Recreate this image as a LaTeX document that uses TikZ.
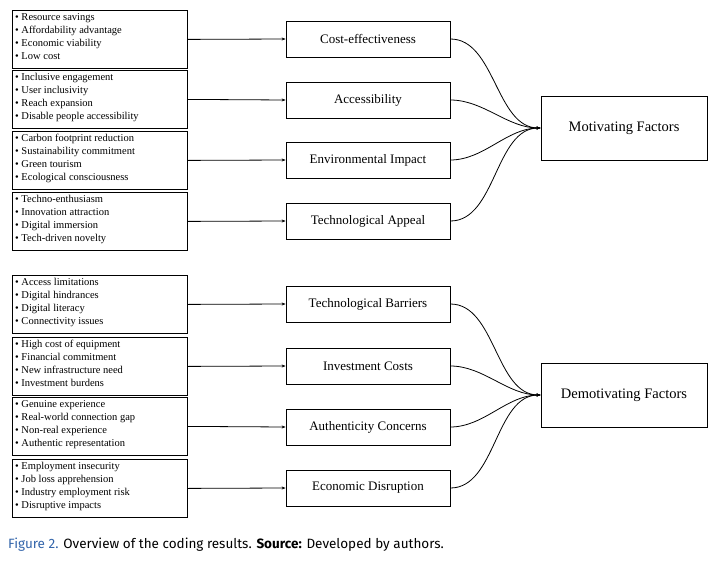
\documentclass[tikz,border=0pt]{standalone}
\usepackage{fontspec}
\setmainfont{Liberation Serif}
\newfontfamily\capfont{Fira Sans}
\usetikzlibrary{arrows.meta}
\definecolor{capblue}{RGB}{50,100,170}
\begin{document}
\begin{tikzpicture}[x=1pt,y=-1pt,
  lbox/.style={draw,line width=0.8pt,minimum width=175pt,minimum height=58pt,anchor=north west,inner sep=0pt},
  ltxt/.style={anchor=north west,align=left,font=\fontsize{10.5}{13}\selectfont,inner sep=0pt},
  mbox/.style={draw,line width=0.8pt,minimum width=164pt,minimum height=36pt,font=\fontsize{13}{15}\selectfont},
  bbox/.style={draw,line width=0.8pt,minimum width=166pt,minimum height=64pt,font=\fontsize{14.5}{16}\selectfont},
  arr/.style={-{Stealth[length=4pt,width=3pt]},line width=0.8pt}]
\useasboundingbox (0,0) rectangle (724,565);
\foreach \n/\y/\t in {a1/10/{• Resource savings\\• Affordability advantage\\• Economic viability\\• Low cost},
  a2/70/{• Inclusive engagement\\• User inclusivity\\• Reach expansion\\• Disable people accessibility},
  a3/131/{• Carbon footprint reduction\\• Sustainability commitment\\• Green tourism\\• Ecological consciousness},
  a4/192/{• Techno-enthusiasm\\• Innovation attraction\\• Digital immersion\\• Tech-driven novelty},
  b1/275/{• Access limitations\\• Digital hindrances\\• Digital literacy\\• Connectivity issues},
  b2/337/{• High cost of equipment\\• Financial commitment\\• New infrastructure need\\• Investment burdens},
  b3/397/{• Genuine experience\\• Real-world connection gap\\• Non-real experience\\• Authentic representation},
  b4/459/{• Employment insecurity\\• Job loss apprehension\\• Industry employment risk\\• Disruptive impacts}}
{\node[lbox] (\n) at (12,\y) {};
 \node[ltxt] (\n t) at (15,\y+3) {\t};}
\node[mbox] (m1) at (368,39) {Cost-effectiveness};
\node[mbox] (m2) at (368,100) {Accessibility};
\node[mbox] (m3) at (368,160) {Environmental Impact};
\node[mbox] (m4) at (368,221) {Technological Appeal};
\node[mbox] (d1) at (368,304) {Technological Barriers};
\node[mbox] (d2) at (368,366) {Investment Costs};
\node[mbox] (d3) at (368,427) {Authenticity Concerns};
\node[mbox] (d4) at (368,488) {Economic Disruption};
\node[bbox] (M) at (624,128) {Motivating Factors};
\node[bbox] (D) at (624,395) {Demotivating Factors};
\foreach \i in {1,2,3,4}{
  \draw[arr] (a\i.east) -- (m\i.west);
  \draw[arr] (b\i.east) -- (d\i.west);
  \draw[arr] (m\i.east) to[out=0,in=180,looseness=0.9] (M.west);
  \draw[arr] (d\i.east) to[out=0,in=180,looseness=0.9] (D.west);
}
\node[anchor=west,inner sep=0pt,font=\capfont\fontsize{13.5}{15}\selectfont] (cap) at (8,545)
  {\textcolor{capblue}{Figure 2.} Overview of the coding results. \textbf{Source:} Developed by authors.};
\end{tikzpicture}
\end{document}
